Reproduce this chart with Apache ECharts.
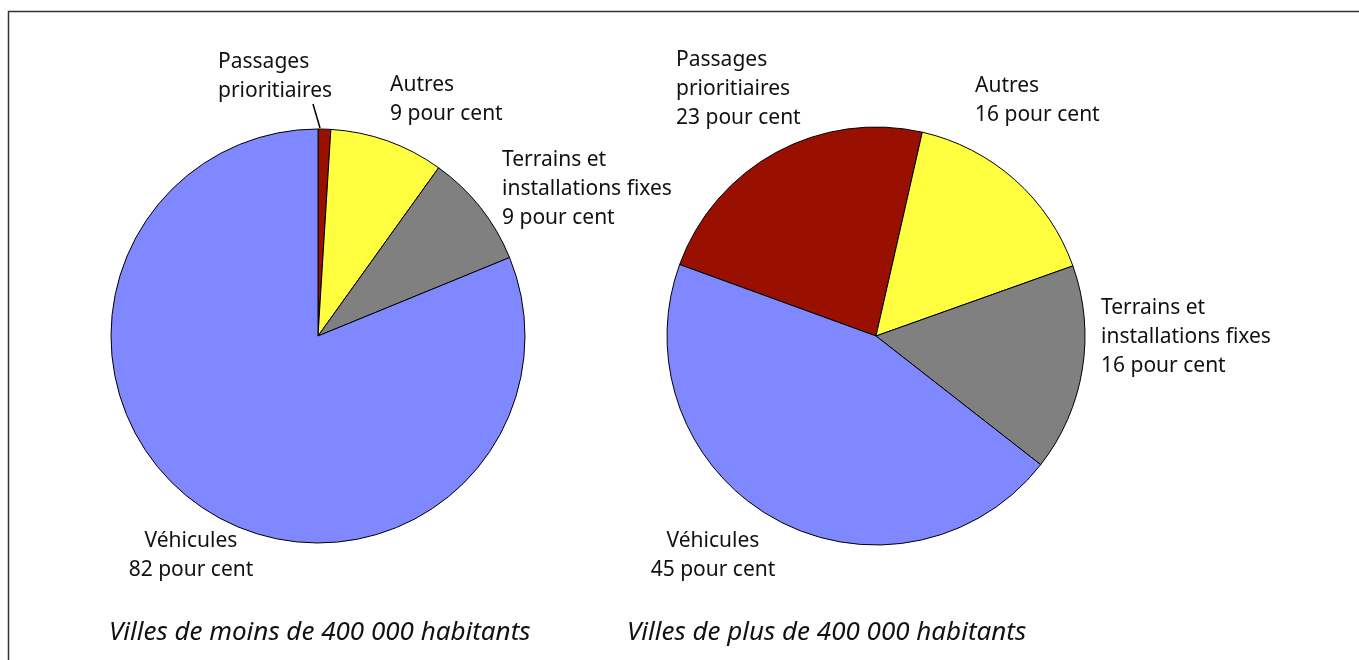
<!DOCTYPE html>
<html lang="fr">
<head>
    <meta charset="UTF-8">
    <title>Répartition des dépenses</title>
    <script src="https://cdn.jsdelivr.net/npm/echarts@6/dist/echarts.min.js"></script>
    <style>
        html, body { margin: 0; padding: 0; background: #fff; }
        #chart { width: 1359px; height: 660px; }
    </style>
</head>
<body>
    <div id="chart"></div>
    <script>
        // données
        const categories = ['Passages prioritiaires', 'Autres', 'Terrains et installations fixes', 'Véhicules'];
        const labelNames = ['Passages\nprioritiaires', 'Autres', 'Terrains et\ninstallations fixes', 'Véhicules'];
        const petitesVilles = [1, 9, 9, 82];
        const grandesVilles = [23, 16, 16, 45];
        const titres = ['Villes de moins de 400 000 habitants', 'Villes de plus de 400 000 habitants'];

        const couleurs = ['#9a1000', '#ffff40', '#808080', '#8088ff'];
        const font = '"Noto Sans", "Open Sans", sans-serif';

        // positions des étiquettes (coin haut-gauche, ou centre pour align center)
        const posEtiquettes = [
            [[218, 48, 'left'], [390, 71, 'left'], [502, 146, 'left'], [191, 527, 'center']],
            [[676, 46, 'left'], [975, 72, 'left'], [1101, 294, 'left'], [713, 527, 'center']]
        ];
        // trait de rappel de la petite part « Passages prioritiaires »
        const traitRappel = [[313, 104], [320, 128]];

        function buildData(values, withPercent) {
            return values.map((v, i) => ({
                name: categories[i],
                value: v,
                label: {
                    formatter: (withPercent || i > 0)
                        ? labelNames[i] + '\n' + v + ' pour cent'
                        : labelNames[i]
                },
                labelLine: { show: !withPercent && i === 0 }
            }));
        }

        const chart = echarts.init(document.getElementById('chart'));

        function pieSeries(values, center, radius, startAngle, idx, withPercent) {
            return {
                type: 'pie',
                center: center,
                radius: radius,
                startAngle: startAngle,
                clockwise: true,
                animation: false,
                silent: true,
                color: couleurs,
                itemStyle: { borderColor: '#000', borderWidth: 1 },
                label: {
                    show: true,
                    position: 'outside',
                    color: '#111',
                    fontFamily: font,
                    fontSize: 21,
                    lineHeight: 29
                },
                labelLine: {
                    show: false,
                    length: 6,
                    length2: 0,
                    lineStyle: { color: '#000', width: 1.5 }
                },
                labelLayout: function (p) {
                    const pos = posEtiquettes[idx][p.dataIndex];
                    const out = {
                        x: pos[0],
                        y: pos[1],
                        align: pos[2],
                        verticalAlign: 'top'
                    };
                    if (!withPercent && p.dataIndex === 0) {
                        out.labelLinePoints = traitRappel;
                    }
                    return out;
                },
                data: buildData(values, withPercent)
            };
        }

        const titreStyle = { fontFamily: font, fontStyle: 'italic', fontWeight: 'normal', fontSize: 26, color: '#111' };

        chart.setOption({
            backgroundColor: '#fff',
            title: [
                { text: titres[0], left: 104, top: 615, textStyle: titreStyle },
                { text: titres[1], left: 622, top: 615, textStyle: titreStyle }
            ],
            graphic: [
                {
                    type: 'polyline',
                    shape: { points: [[8.5, 660], [8.5, 11.5], [1359, 11.5]] },
                    style: { stroke: '#333', lineWidth: 1.5, fill: null }
                }
            ],
            series: [
                pieSeries(petitesVilles, [318, 336], 207, 90, 0, false),
                pieSeries(grandesVilles, [876, 336], 209, 160, 1, true)
            ]
        });
    </script>
</body>
</html>
